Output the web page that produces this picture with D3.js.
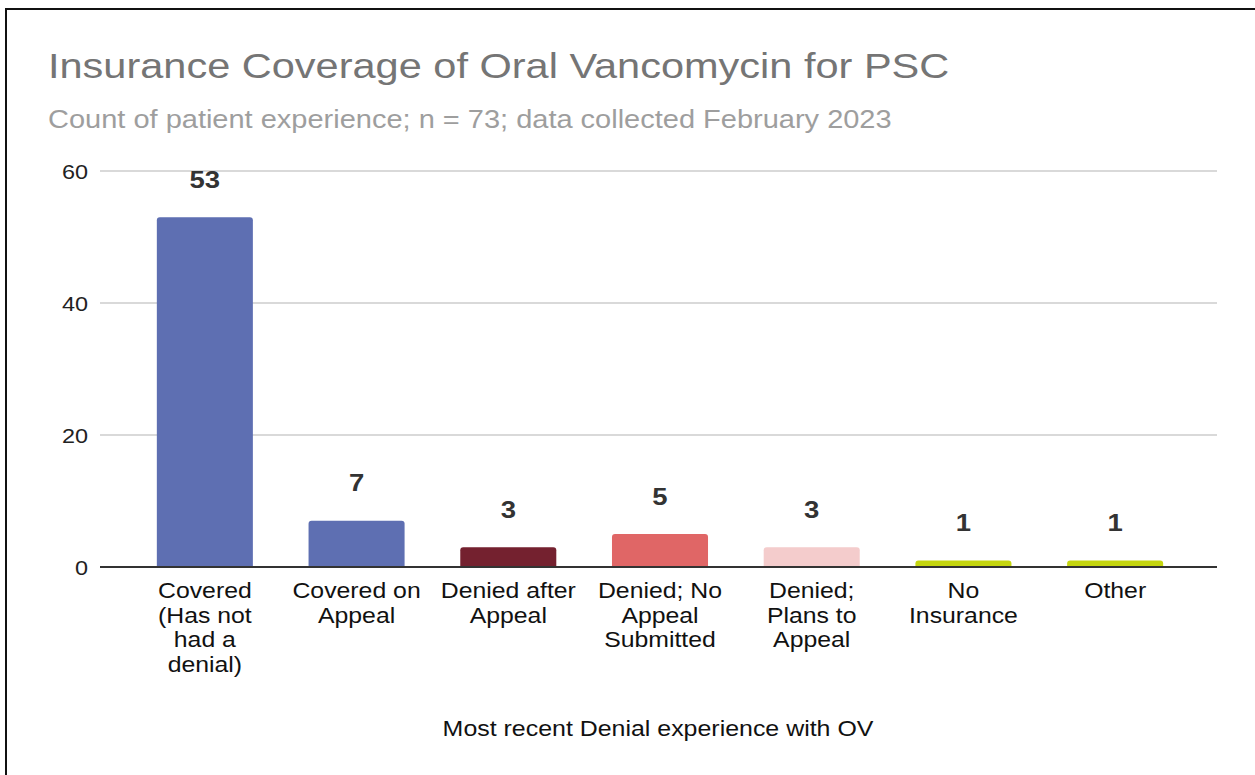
<!DOCTYPE html>
<html>
<head>
<meta charset="utf-8">
<script src="https://cdn.jsdelivr.net/npm/d3@7"></script>
<style>
html,body{margin:0;padding:0;background:#fff;}
svg{display:block;font-family:"Liberation Sans",Arial,sans-serif;}
</style>
</head>
<body>
<svg id="chart" width="1255" height="775"></svg>
<script>
const categories = ["Covered (Has not had a denial)", "Covered on Appeal", "Denied after Appeal", "Denied; No Appeal Submitted", "Denied; Plans to Appeal", "No Insurance", "Other"];
const categoryLines = [["Covered","(Has not","had a","denial)"],["Covered on","Appeal"],["Denied after","Appeal"],["Denied; No","Appeal","Submitted"],["Denied;","Plans to","Appeal"],["No","Insurance"],["Other"]];
const counts = [53, 7, 3, 5, 3, 1, 1];
const barColors = ["#5e6fb2", "#5e6fb2", "#74212f", "#e06666", "#f4cccc", "#c5d60f", "#c5d60f"];
const yTicks = [0, 20, 40, 60];
const titleText = "Insurance Coverage of Oral Vancomycin for PSC";
const subtitleText = "Count of patient experience; n = 73; data collected February 2023";
const xAxisTitle = "Most recent Denial experience with OV";

const SX = 1.16; // horizontal text stretch seen in the reference
const svg = d3.select("#chart");

function addText(parent, x, y, size, fill, anchor, txt, weight){
  const g = parent.append("g").attr("transform", `translate(${x},${y}) scale(${SX},1)`);
  const t = g.append("text").attr("x",0).attr("y",0).attr("font-size",size).attr("fill",fill)
    .attr("text-anchor",anchor||"start").attr("font-weight",weight||"normal");
  if (txt !== null) t.text(txt);
  return t;
}

// frame
svg.append("line").attr("x1",6).attr("x2",1255).attr("y1",9).attr("y2",9).attr("stroke","#111").attr("stroke-width",2);
svg.append("line").attr("x1",6).attr("x2",6).attr("y1",8).attr("y2",775).attr("stroke","#111").attr("stroke-width",2);

addText(svg, 48, 78, 35.8, "#757575", "start", titleText);
addText(svg, 48, 128, 25, "#9e9e9e", "start", subtitleText);

const gridL = 100, gridR = 1217;
const x = d3.scaleBand().domain(categories).range([129, 1191]).paddingInner(0.367).paddingOuter(0.1835);
const y = d3.scaleLinear().domain([0, 60]).range([567, 171]);

// gridlines
svg.append("g").selectAll("line").data(yTicks.filter(d=>d!==0)).join("line")
  .attr("x1",gridL).attr("x2",gridR).attr("y1",d=>y(d)).attr("y2",d=>y(d))
  .attr("stroke","#cccccc").attr("stroke-width",1.3);

// y tick labels
const tickG = svg.append("g");
yTicks.forEach(d => addText(tickG, 88, y(d)+7.5, 20.2, "#222", "end", d));

// bars with rounded top corners
const r = 3;
svg.append("g").selectAll("path").data(counts).join("path")
  .attr("fill",(d,i)=>barColors[i])
  .attr("d",(d,i)=>{
    const x0 = x(categories[i]), w = x.bandwidth(), y0 = y(0), y1 = y(d);
    const h = y0 - y1; const rr = Math.min(r, h/2);
    return `M${x0},${y0}V${y1+rr}Q${x0},${y1} ${x0+rr},${y1}H${x0+w-rr}Q${x0+w},${y1} ${x0+w},${y1+rr}V${y0}Z`;
  });

// value labels
const valG = svg.append("g");
counts.forEach((d,i) => addText(valG, x(categories[i])+x.bandwidth()/2, y(d)-29.5, 23.7, "#333", "middle", d, "bold"));

// zero line
svg.append("line").attr("x1",gridL).attr("x2",gridR).attr("y1",y(0)).attr("y2",y(0)).attr("stroke","#333").attr("stroke-width",2);

// category labels
const catG = svg.append("g");
categories.forEach((c,i) => {
  const t = addText(catG, x(c)+x.bandwidth()/2, 598, 21.4, "#111", "middle", null);
  categoryLines[i].forEach((ln,j) => t.append("tspan").attr("x",0).attr("y",j*24.7).text(ln));
});

addText(svg, 658, 736, 21.5, "#111", "middle", xAxisTitle);
</script>
</body>
</html>
